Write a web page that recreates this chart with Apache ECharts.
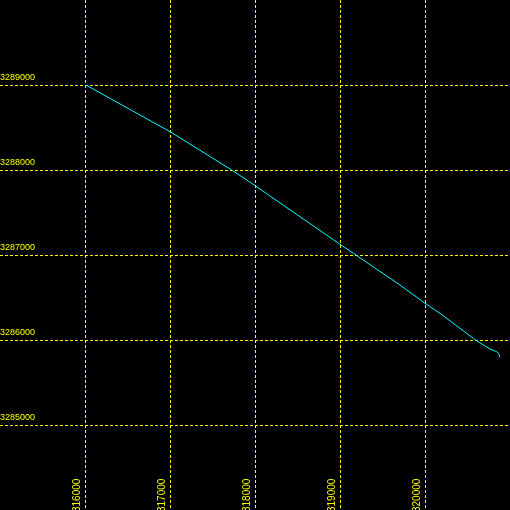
<!DOCTYPE html>
<html>
<head>
<meta charset="utf-8">
<script src="https://cdn.jsdelivr.net/npm/echarts@6/dist/echarts.min.js"></script>
<style>html,body{margin:0;padding:0;background:#000;}#c{width:510px;height:510px;}</style>
</head>
<body>
<div id="c"></div>
<script>
var xTicks = [316000, 317000, 318000, 319000, 320000];
var yTicks = [3285000, 3286000, 3287000, 3288000, 3289000];
var easting = [316010, 316647, 317012, 317726, 318008, 318176, 319000, 319188, 319353, 319706, 320000, 320176, 320600, 320765, 320844, 320871, 320879];
var northing = [3289000, 3288647, 3288444, 3288000, 3287812, 3287694, 3287126, 3287000, 3286886, 3286647, 3286432, 3286314, 3285996, 3285894, 3285862, 3285835, 3285796];

var pts = easting.map(function (x, i) { return [x, northing[i]]; });
var chart = echarts.init(document.getElementById('c'), null, {renderer: 'canvas'});
var yellow = '#FFFF00';
chart.setOption({
  backgroundColor: '#000000',
  animation: false,
  grid: {left: 0, right: 0, top: 0, bottom: 0, containLabel: false, outerBoundsMode: 'none'},
  xAxis: {
    type: 'value', min: 315000, max: 321000, interval: 1000,
    axisLine: {show: false}, axisTick: {show: false},
    splitLine: {show: true, showMinLine: false, showMaxLine: false, lineStyle: {color: yellow, width: 1, type: [3, 2]}},
    axisLabel: {
      inside: true, rotate: 90, color: yellow, fontSize: 10, fontFamily: 'Liberation Sans',
      margin: -2, verticalAlign: 'bottom', padding: [0, 0, 3, 0],
      showMinLabel: false, showMaxLabel: false,
      formatter: function (v) { return xTicks.indexOf(v) >= 0 ? String(v) : ''; }
    }
  },
  yAxis: {
    type: 'value', min: 3284000, max: 3290000, interval: 1000,
    axisLine: {show: false}, axisTick: {show: false},
    splitLine: {show: true, showMinLine: false, showMaxLine: false, lineStyle: {color: yellow, width: 1, type: [3, 2]}},
    axisLabel: {
      inside: true, color: yellow, fontSize: 9, fontFamily: 'Liberation Sans',
      margin: 0, align: 'left', verticalAlign: 'bottom', padding: [0, 0, 3, 0],
      showMinLabel: false, showMaxLabel: false,
      formatter: function (v) { return yTicks.indexOf(v) >= 0 ? String(v) : ''; }
    }
  },
  series: [{
    type: 'line', data: pts, showSymbol: false, smooth: false,
    lineStyle: {color: '#00FFFF', width: 1}, itemStyle: {color: '#00FFFF'}
  }]
});
</script>
</body>
</html>
